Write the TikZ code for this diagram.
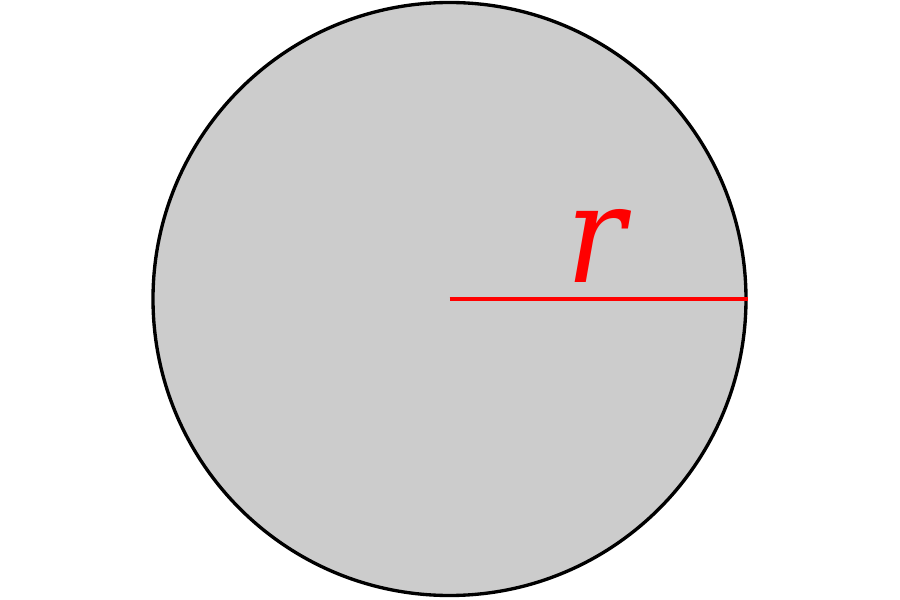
\documentclass[tikz,border=0pt]{standalone}
\usepackage{fontspec}
\newfontfamily\labelfont{DejaVu Serif Condensed}
\usetikzlibrary{positioning}

\begin{document}
\begin{tikzpicture}[x=1cm,y=1cm]
    % Colores
    \definecolor{discgray}{RGB}{204,204,204}
    \definecolor{radiusred}{RGB}{255,0,0}
    \useasboundingbox (0,0) rectangle (9,6);

    % Disco
    \node[circle, draw=black, fill=discgray, line width=0.95pt,
          minimum size=5.93cm, inner sep=0pt] (disc) at (4.495,3.01) {};

    % Radio
    \draw[radiusred, line width=1.1pt] (disc.center) -- (disc.east);

    % Etiqueta
    \node[radiusred, inner sep=0pt] (rlabel) at (5.955,3.54)
        {\fontsize{39}{39}\selectfont\labelfont\itshape r};
\end{tikzpicture}
\end{document}
